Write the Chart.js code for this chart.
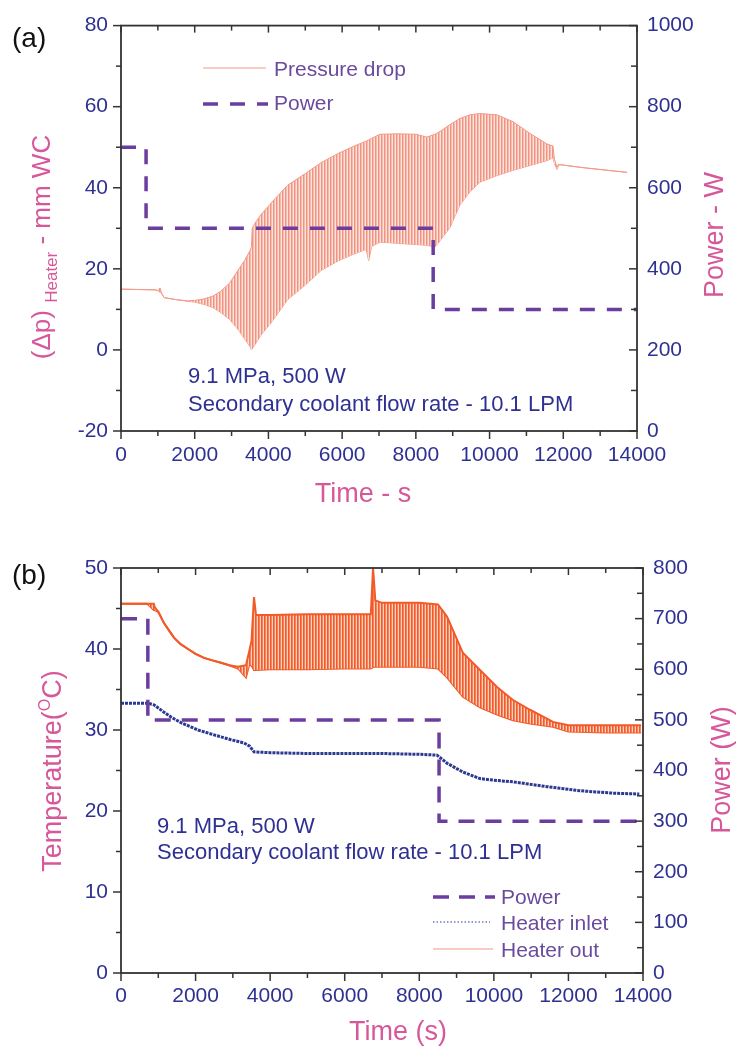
<!DOCTYPE html>
<html><head><meta charset="utf-8">
<script src="https://cdn.jsdelivr.net/npm/chart.js@4.4.1/dist/chart.umd.min.js"></script>
<style>
html,body{margin:0;padding:0;background:#fff;}
#wrap{position:relative;width:740px;height:1050px;overflow:hidden;}
canvas{position:absolute;left:0;}
#ca{top:0px}
#cb{top:520px}
</style></head><body>
<div id="wrap"><canvas id="ca" width="740" height="520"></canvas><canvas id="cb" width="740" height="530"></canvas></div>
<script>
// ---------------- data: chart (a) ----------------
const pressureTime  = [0, 950, 1000, 1060, 1100, 1170, 1500, 1810, 2000, 2260, 2500, 2710, 2950, 3170, 3350, 3500, 3540, 3560, 3650, 3800, 4100, 4520, 5000, 5430, 5900, 6330, 6650, 6720, 6800, 7030, 7500, 8000, 8300, 8520, 8655, 8926, 9198, 9469, 9740, 10200, 10636, 11097, 11558, 11720, 11760, 11830, 11870, 11910, 12500, 13000, 13730];
const pressureUpper = [15.0, 14.8, 14.6, 15.3, 14.0, 12.9, 12.4, 12.1, 12.2, 12.6, 13.3, 14.5, 16.5, 19.6, 22.0, 24.5, 25.5, 30.0, 31.5, 33.4, 36.5, 40.6, 43.5, 46.2, 48.5, 50.3, 51.5, 51.8, 52.2, 53.2, 53.3, 53.2, 52.5, 53.2, 53.9, 55.6, 57.1, 58.0, 58.3, 58.0, 56.3, 53.4, 50.8, 50.3, 47.0, 45.0, 45.8, 45.7, 45.0, 44.5, 43.8];
const pressureLower = [15.0, 14.8, 14.6, 14.2, 14.0, 12.9, 12.4, 12.0, 11.8, 11.2, 10.4, 9.2, 7.5, 5.1, 2.8, 0.8, 0.0, 0.3, 1.5, 3.7, 7.0, 12.4, 16.0, 19.6, 22.0, 23.7, 24.8, 22.0, 25.5, 26.6, 26.3, 26.0, 25.8, 25.4, 26.9, 30.2, 35.8, 39.0, 41.4, 43.0, 44.3, 45.5, 46.7, 47.4, 46.0, 44.5, 45.5, 45.7, 45.0, 44.5, 43.8];
const powerTimeA = [0, 680, 680, 8470, 8470, 14000];
const powerA     = [700, 700, 500, 500, 300, 300];
const pressureTicks = [-20, 0, 20, 40, 60, 80];
const powerTicksA   = [0, 200, 400, 600, 800, 1000];

// ---------------- data: chart (b) ----------------
const outTime  = [0, 700, 880, 900, 1000, 1153, 1300, 1420, 1600, 1797, 2000, 2226, 2450, 2682, 2900, 3138, 3352, 3433, 3500, 3567, 3620, 4000, 5000, 6000, 6700, 6760, 6820, 7000, 8000, 8500, 8743, 9172, 9628, 10084, 10513, 10969, 11586, 12000, 13000, 13950];
const outUpper = [45.6, 45.6, 45.6, 45.2, 44.6, 43.2, 42.2, 41.4, 40.6, 40.0, 39.4, 38.9, 38.6, 38.3, 38.0, 37.8, 38.0, 39.6, 41.0, 46.4, 44.2, 44.2, 44.3, 44.3, 44.3, 50.0, 46.0, 45.7, 45.7, 45.5, 44.0, 39.5, 37.4, 35.3, 33.7, 32.5, 31.0, 30.6, 30.6, 30.6];
const outLower = [45.6, 45.6, 44.8, 44.8, 44.6, 43.2, 42.2, 41.4, 40.6, 40.0, 39.4, 38.9, 38.6, 38.3, 38.0, 37.6, 36.5, 38.0, 38.0, 37.4, 37.4, 37.5, 37.5, 37.6, 37.6, 37.8, 37.8, 37.8, 37.8, 37.6, 36.5, 34.1, 32.8, 31.9, 31.2, 30.8, 30.4, 29.8, 29.7, 29.7];
const inletTime = [0, 724, 885, 1153, 1341, 1609, 2065, 2494, 2950, 3300, 3450, 3567, 4000, 5000, 6000, 7000, 8000, 8475, 8743, 9172, 9628, 10000, 10513, 11430, 12311, 13196, 13900];
const inletTemp = [33.3, 33.3, 33.1, 32.2, 31.6, 30.9, 30.0, 29.4, 28.8, 28.4, 28.0, 27.3, 27.2, 27.1, 27.1, 27.1, 27.0, 26.9, 25.9, 24.8, 24.0, 23.8, 23.6, 23.0, 22.5, 22.2, 22.1];
const powerTimeB = [0, 720, 720, 8530, 8530, 14000];
const powerB     = [700, 700, 500, 500, 300, 300];
const tempTicks   = [0, 10, 20, 30, 40, 50];
const powerTicksB = [0, 100, 200, 300, 400, 500, 600, 700, 800];

const timeTicks = [0, 2000, 4000, 6000, 8000, 10000, 12000, 14000];

// ---------------- styles ----------------
const FONT = '"Liberation Sans", Arial, Helvetica, sans-serif';
const BLUE = '#2e3192';
const PINK = '#d6589a';
const LEGPURPLE = '#6a4a9c';
const PURPLE = '#6b3d9e';
const SALMON = '#f29a8a';
const ORANGE = '#f15a29';
const INLET = '#2b3990';
const AXIS = '#333333';

function pts(xs, ys) { return xs.map((x, i) => ({ x: x, y: ys[i] })); }
function stripes(cols) {
  const c = document.createElement('canvas');
  c.width = cols.length; c.height = 4;
  const g = c.getContext('2d');
  cols.forEach((col, i) => { g.fillStyle = col; g.fillRect(i, 0, 1, 4); });
  return g.createPattern(c, 'repeat');
}
function fixedTicks(arr) { return function (s) { s.ticks = arr.map(v => ({ value: v })); }; }

function drawRich(ctx, parts, x, y, rot, align) {
  ctx.save();
  ctx.translate(x, y);
  ctx.rotate(rot || 0);
  let w = 0;
  parts.forEach(p => { ctx.font = p.size + 'px ' + FONT; w += ctx.measureText(p.t).width; });
  let cx = align === 'center' ? -w / 2 : 0;
  ctx.textBaseline = 'alphabetic';
  ctx.textAlign = 'left';
  parts.forEach(p => {
    ctx.font = p.size + 'px ' + FONT;
    ctx.fillStyle = p.color;
    ctx.fillText(p.t, cx, p.dy || 0);
    cx += ctx.measureText(p.t).width;
  });
  ctx.restore();
}

const decorPlugin = {
  id: 'decor',
  afterDatasetsDraw(chart, args, o) {
    const ctx = chart.ctx, a = chart.chartArea;
    const sx = chart.scales.x, yl = chart.scales.y, yr = chart.scales.y1;
    ctx.save();
    ctx.strokeStyle = AXIS;
    function seg(x1, y1, x2, y2) { ctx.beginPath(); ctx.moveTo(x1, y1); ctx.lineTo(x2, y2); ctx.stroke(); }
    ctx.lineWidth = 1.5;
    for (let v = sx.min; v <= sx.max + 1e-6; v += o.xMinor) {
      const major = Math.abs(v / o.xMajor - Math.round(v / o.xMajor)) < 1e-6;
      const p = sx.getPixelForValue(v);
      seg(p, a.bottom, p, a.bottom + (major ? 8 : 5));
      seg(p, a.top, p, a.top + (major ? 7 : 5));
    }
    for (let v = yl.min; v <= yl.max + 1e-6; v += o.lMinor) {
      const major = Math.abs(v / o.lMajor - Math.round(v / o.lMajor)) < 1e-6;
      const p = yl.getPixelForValue(v);
      seg(a.left - (major ? 8 : 5), p, a.left, p);
    }
    for (let v = yr.min; v <= yr.max + 1e-6; v += o.rMinor) {
      const major = Math.abs(v / o.rMajor - Math.round(v / o.rMajor)) < 1e-6;
      const p = yr.getPixelForValue(v);
      seg(a.right - (major ? 8 : 6), p, a.right, p);
    }
    ctx.lineWidth = 1.8;
    ctx.strokeRect(a.left, a.top, a.right - a.left, a.bottom - a.top);
    // legend samples
    (o.samples || []).forEach(s => {
      ctx.save();
      ctx.strokeStyle = s.color; ctx.lineWidth = s.width;
      ctx.setLineDash(s.dash || []);
      seg(s.x1, s.y, s.x2, s.y);
      ctx.restore();
    });
    // texts
    (o.texts || []).forEach(t => drawRich(ctx, t.parts, t.x, t.y, t.rot, t.align));
    ctx.restore();
  }
};

function makeScales(cfg) {
  return {
    x: {
      type: 'linear', position: 'bottom', min: 0, max: 14000,
      afterBuildTicks: fixedTicks(timeTicks),
      ticks: { font: { size: 21, family: FONT }, color: BLUE, padding: cfg.xPad, maxRotation: 0, autoSkip: false, callback: v => String(v) },
      grid: { display: false, drawTicks: false }, border: { display: false },
      afterFit: s => { s.height = cfg.xH; }
    },
    y: {
      type: 'linear', position: 'left', min: cfg.lMin, max: cfg.lMax,
      afterBuildTicks: fixedTicks(cfg.lTicks),
      ticks: { font: { size: 21, family: FONT }, color: BLUE, padding: 13, autoSkip: false, callback: v => String(v) },
      grid: { display: false, drawTicks: false }, border: { display: false },
      afterFit: s => { s.width = 121; }
    },
    y1: {
      type: 'linear', position: 'right', min: cfg.rMin, max: cfg.rMax,
      afterBuildTicks: fixedTicks(cfg.rTicks),
      ticks: { font: { size: 21, family: FONT }, color: BLUE, padding: 10, autoSkip: false, callback: v => String(v) },
      grid: { display: false, drawTicks: false }, border: { display: false },
      afterFit: s => { s.width = cfg.rW; }
    }
  };
}

// ---------------- chart (a) ----------------
const ctxA = document.getElementById('ca').getContext('2d');
const bandA = stripes(['#f1947f', '#f7bcaf', '#fce2dc']);
new Chart(ctxA, {
  type: 'line',
  data: {
    datasets: [
      { label: 'Pressure drop', order: 2, data: pts(pressureTime, pressureUpper), yAxisID: 'y', borderColor: SALMON, borderWidth: 1, pointRadius: 0, fill: '+1', backgroundColor: bandA, tension: 0 },
      { label: 'Pressure drop (min)', order: 3, data: pts(pressureTime, pressureLower), yAxisID: 'y', borderColor: SALMON, borderWidth: 1, pointRadius: 0, fill: false, tension: 0 },
      { label: 'Power', order: 0, data: pts(powerTimeA, powerA), yAxisID: 'y1', borderColor: PURPLE, borderWidth: 3.5, borderDash: [15, 12], pointRadius: 0, fill: false, tension: 0 }
    ]
  },
  options: {
    responsive: false, animation: false,
    layout: { padding: { top: 17, left: 0, right: 0, bottom: 0 } },
    scales: makeScales({ xPad: 12, xH: 89, lMin: -20, lMax: 80, lTicks: pressureTicks, rMin: 0, rMax: 1000, rTicks: powerTicksA, rW: 103 }),
    plugins: {
      legend: { display: false }, tooltip: { enabled: false },
      decor: {
        xMinor: 1000, xMajor: 2000, lMinor: 10, lMajor: 20, rMinor: 100, rMajor: 200,
        samples: [
          { x1: 203, x2: 266, y: 68, color: SALMON, width: 1 },
          { x1: 203, x2: 268, y: 104, color: PURPLE, width: 3.5, dash: [15, 12] }
        ],
        texts: [
          { x: 12, y: 47, parts: [{ t: '(a)', size: 28, color: '#111' }] },
          { x: 274, y: 76, parts: [{ t: 'Pressure drop', size: 21, color: LEGPURPLE }] },
          { x: 274, y: 110, parts: [{ t: 'Power', size: 21, color: LEGPURPLE }] },
          { x: 188, y: 383, parts: [{ t: '9.1 MPa, 500 W', size: 22, color: BLUE }] },
          { x: 188, y: 411, parts: [{ t: 'Secondary coolant flow rate - 10.1 LPM', size: 22, color: BLUE }] },
          { x: 363, y: 502, align: 'center', parts: [{ t: 'Time - s', size: 27, color: PINK }] },
          { x: 50, y: 247, rot: -Math.PI / 2, align: 'center', parts: [{ t: '(\u0394p) ', size: 26, color: PINK }, { t: 'Heater', size: 17, dy: 7, color: PINK }, { t: ' - mm WC', size: 26, color: PINK }] },
          { x: 723, y: 235, rot: -Math.PI / 2, align: 'center', parts: [{ t: 'Power - W', size: 27, color: PINK }] }
        ]
      }
    }
  },
  plugins: [decorPlugin]
});

// ---------------- chart (b) ----------------
const ctxB = document.getElementById('cb').getContext('2d');
const bandB = stripes(['#f15a29', '#f5825a', '#fcd0bf']);
new Chart(ctxB, {
  type: 'line',
  data: {
    datasets: [
      { label: 'Heater out', order: 2, data: pts(outTime, outUpper), yAxisID: 'y', borderColor: ORANGE, borderWidth: 2, pointRadius: 0, fill: '+1', backgroundColor: bandB, tension: 0 },
      { label: 'Heater out (min)', order: 3, data: pts(outTime, outLower), yAxisID: 'y', borderColor: ORANGE, borderWidth: 2, pointRadius: 0, fill: false, tension: 0 },
      { label: 'Heater inlet', order: 1, data: pts(inletTime, inletTemp), yAxisID: 'y', borderColor: INLET, borderWidth: 3, borderDash: [3, 1], pointRadius: 0, fill: false, tension: 0 },
      { label: 'Power', order: 0, data: pts(powerTimeB, powerB), yAxisID: 'y1', borderColor: PURPLE, borderWidth: 3.5, borderDash: [16, 11], pointRadius: 0, fill: false, tension: 0 }
    ]
  },
  options: {
    responsive: false, animation: false,
    layout: { padding: { top: 48, left: 0, right: 0, bottom: 0 } },
    scales: makeScales({ xPad: 11, xH: 77, lMin: 0, lMax: 50, lTicks: tempTicks, rMin: 0, rMax: 800, rTicks: powerTicksB, rW: 97 }),
    plugins: {
      legend: { display: false }, tooltip: { enabled: false },
      decor: {
        xMinor: 1000, xMajor: 2000, lMinor: 5, lMajor: 10, rMinor: 50, rMajor: 100,
        samples: [
          { x1: 433, x2: 495, y: 377, color: PURPLE, width: 3.5, dash: [16, 10] },
          { x1: 433, x2: 490, y: 402, color: INLET, width: 1.2, dash: [1.5, 2] },
          { x1: 433, x2: 493, y: 429, color: SALMON, width: 1.2 }
        ],
        texts: [
          { x: 12, y: 64, parts: [{ t: '(b)', size: 28, color: '#111' }] },
          { x: 501, y: 384, parts: [{ t: 'Power', size: 21, color: LEGPURPLE }] },
          { x: 501, y: 410, parts: [{ t: 'Heater inlet', size: 21, color: LEGPURPLE }] },
          { x: 501, y: 437, parts: [{ t: 'Heater out', size: 21, color: LEGPURPLE }] },
          { x: 157, y: 313, parts: [{ t: '9.1 MPa, 500 W', size: 22, color: BLUE }] },
          { x: 157, y: 339, parts: [{ t: 'Secondary coolant flow rate - 10.1 LPM', size: 22, color: BLUE }] },
          { x: 398, y: 520, align: 'center', parts: [{ t: 'Time (s)', size: 27, color: PINK }] },
          { x: 61, y: 251, rot: -Math.PI / 2, align: 'center', parts: [{ t: 'Temperature(', size: 27, color: PINK }, { t: 'O', size: 16, dy: -11, color: PINK }, { t: 'C)', size: 27, color: PINK }] },
          { x: 730, y: 250, rot: -Math.PI / 2, align: 'center', parts: [{ t: 'Power (W)', size: 27, color: PINK }] }
        ]
      }
    }
  },
  plugins: [decorPlugin]
});
</script>
</body></html>
